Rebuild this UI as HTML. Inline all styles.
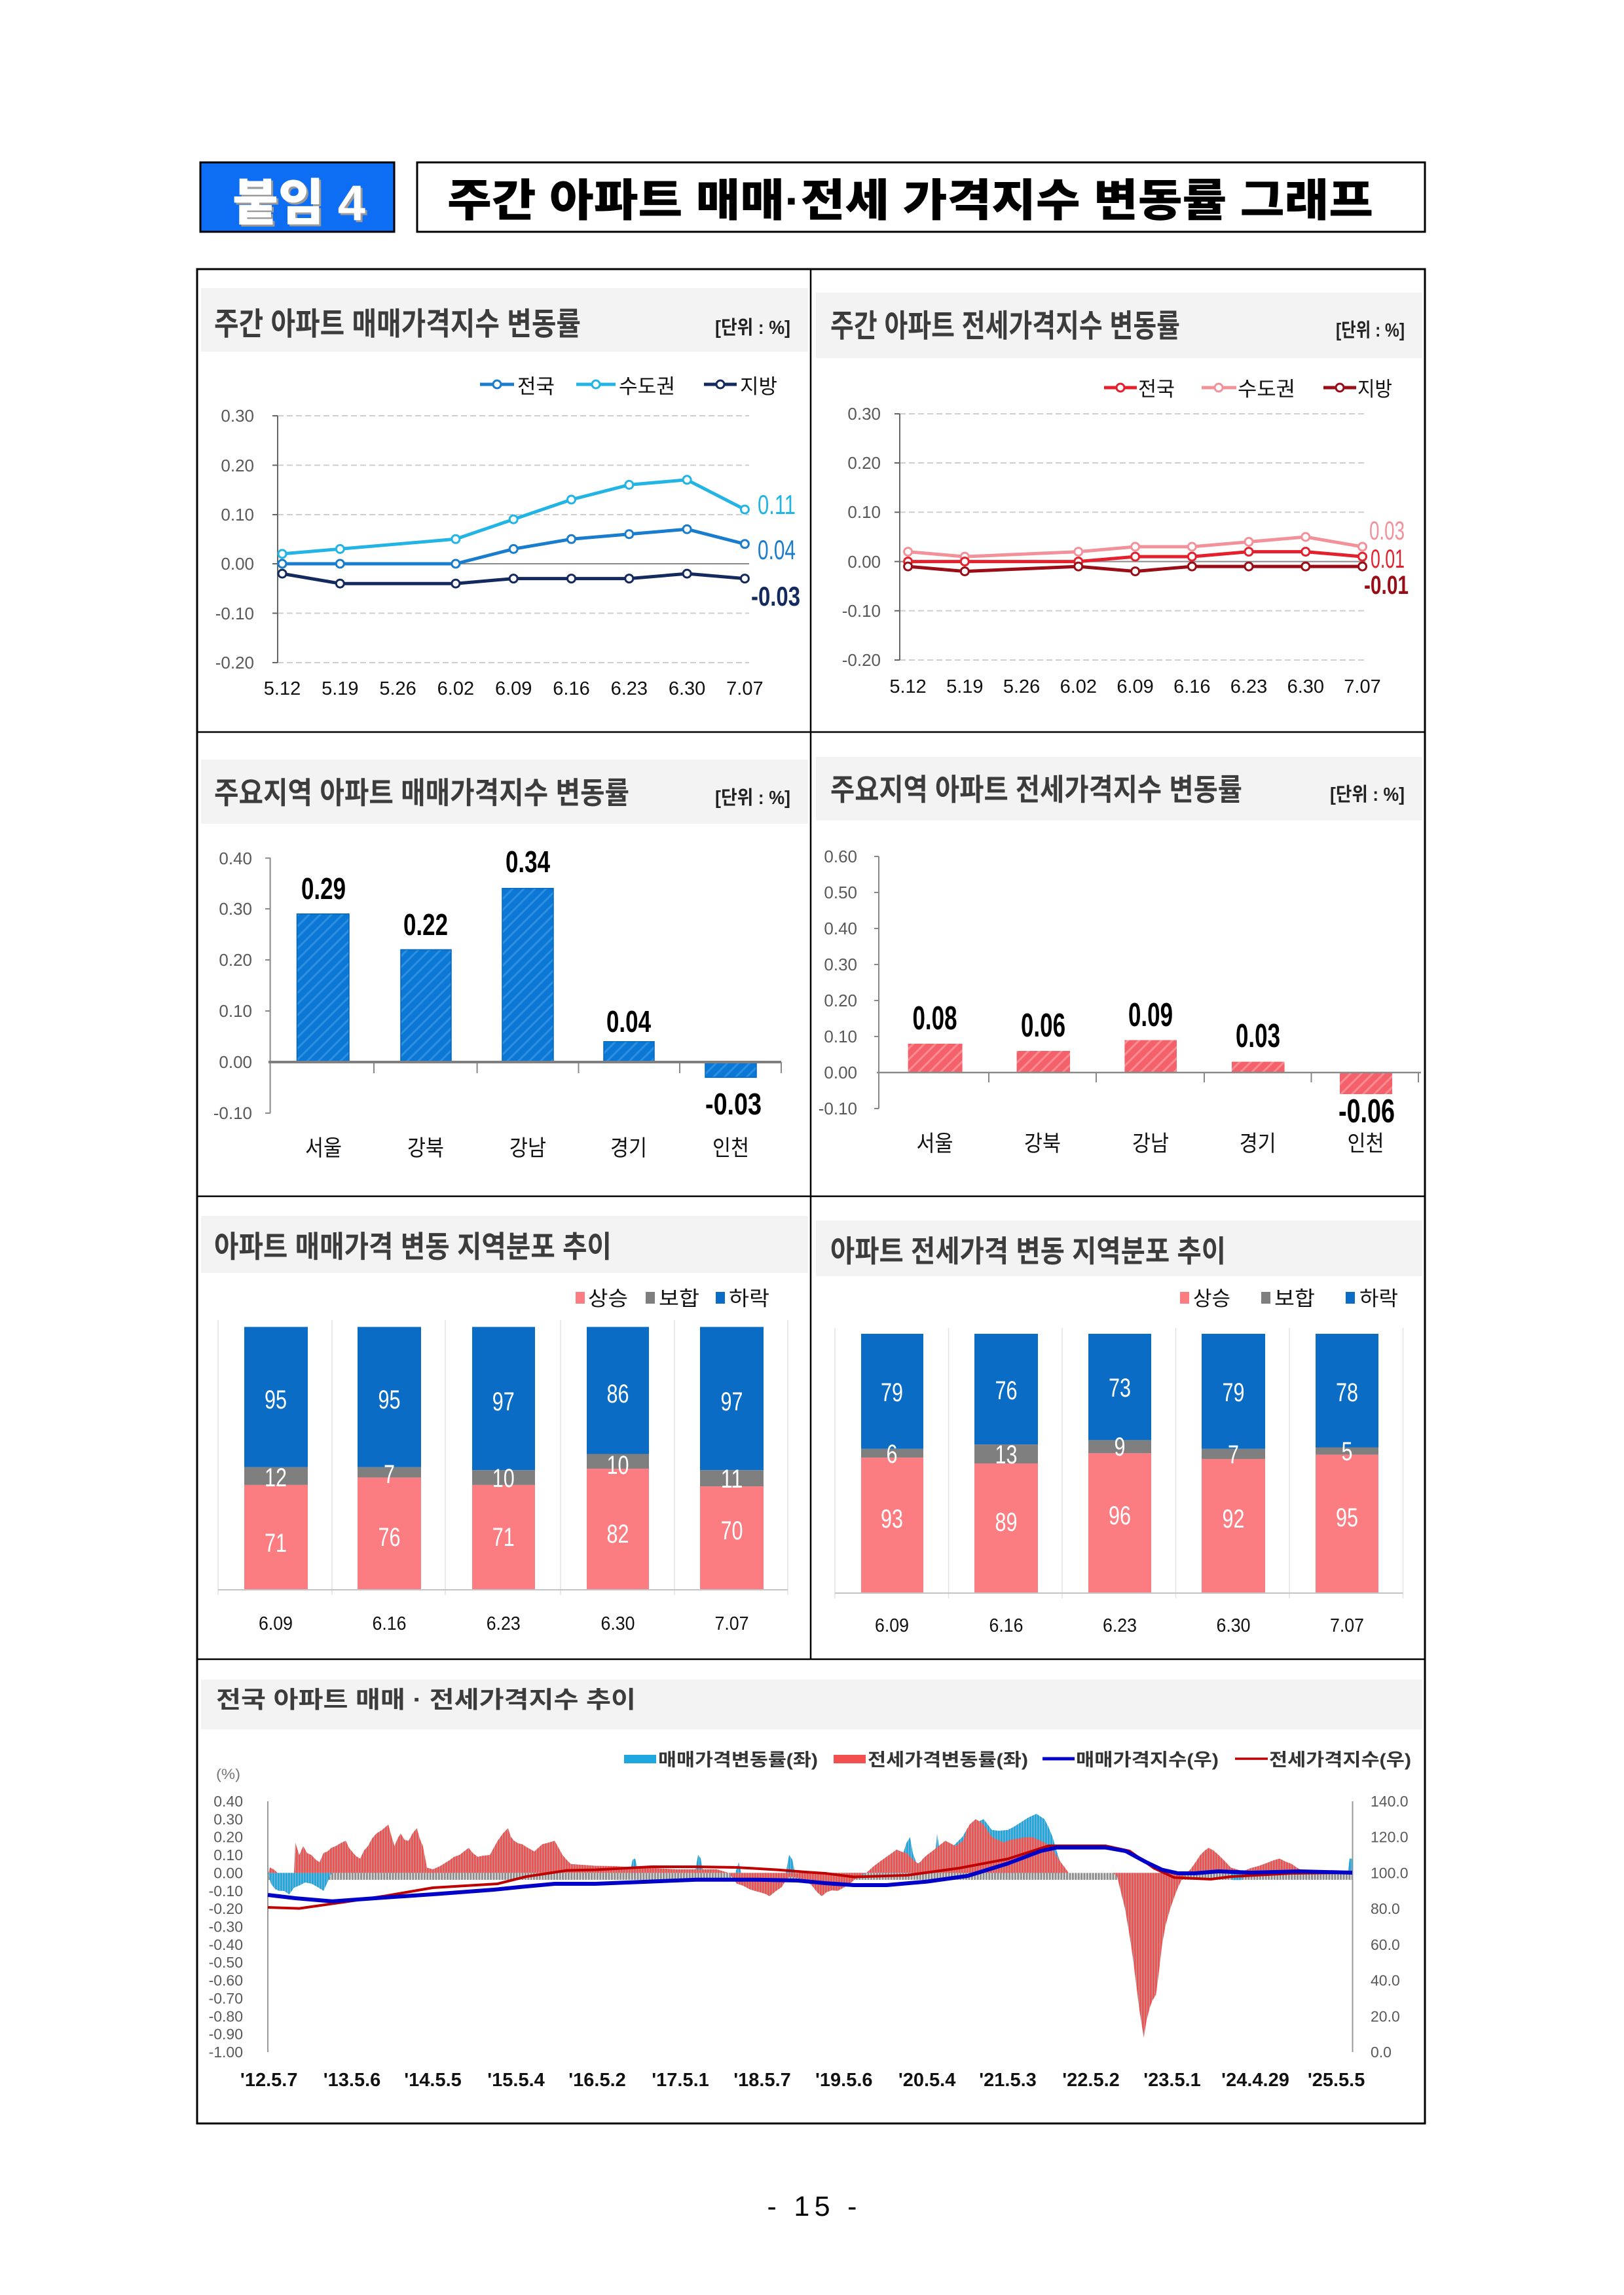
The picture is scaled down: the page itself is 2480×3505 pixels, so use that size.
<!DOCTYPE html>
<html lang="ko">
<head>
<meta charset="utf-8">
<style>
html,body{margin:0;padding:0;background:#fff;}
body{width:2480px;height:3505px;overflow:hidden;}
svg{display:block;}
text{font-family:"Liberation Sans","Noto Sans CJK KR",sans-serif;}
.ttl{font-weight:bold;fill:#3c3c3c;}
.unit{font-weight:bold;fill:#222;font-size:29px;}
.ax{fill:#595959;font-size:26px;}
.xl{fill:#111;font-size:29px;}
.lg{fill:#111;font-size:31px;}
.bv{font-weight:bold;fill:#000;}
.cat{fill:#111;font-size:34px;}
.sv{fill:#fff;font-size:40px;}
.grid{stroke:#cfcfcf;stroke-width:2;stroke-dasharray:9 5;}
</style>
</head>
<body>
<svg width="2480" height="3505" viewBox="0 0 2480 3505" xmlns="http://www.w3.org/2000/svg">
<defs>
  <pattern id="hb" width="12" height="12" patternUnits="userSpaceOnUse" patternTransform="rotate(45)">
    <rect width="12" height="12" fill="#0a78d4"/>
    <rect width="3" height="12" fill="#2e8fe0"/>
  </pattern>
  <pattern id="hp" width="12" height="12" patternUnits="userSpaceOnUse" patternTransform="rotate(45)">
    <rect width="12" height="12" fill="#f5616a"/>
    <rect width="3" height="12" fill="#f88d92"/>
  </pattern>
  <pattern id="rs" width="4" height="20" patternUnits="userSpaceOnUse">
    <rect width="4" height="20" fill="#b89a9a"/>
    <rect width="2.7" height="20" fill="#f2504e"/>
  </pattern>
  <pattern id="cs" width="4" height="20" patternUnits="userSpaceOnUse">
    <rect width="4" height="20" fill="#8fb8c8"/>
    <rect width="2.8" height="20" fill="#1ea6de"/>
  </pattern>
  <pattern id="gs" width="4.4" height="20" patternUnits="userSpaceOnUse">
    <rect width="4.4" height="20" fill="#fff"/>
    <rect width="3.2" height="20" fill="#8e8e8e"/>
  </pattern>
</defs>

<!-- ===== Header ===== -->
<rect x="306" y="248" width="296" height="106" fill="#0d6ef4" stroke="#000" stroke-width="3"/>
<text x="358" y="339" font-size="76" font-weight="900" fill="#9a9a9a" textLength="203" lengthAdjust="spacingAndGlyphs">붙임 4</text>
<text x="355" y="336" font-size="76" font-weight="900" fill="#fff" textLength="203" lengthAdjust="spacingAndGlyphs">붙임 4</text>
<rect x="637" y="248" width="1539" height="106" fill="#fff" stroke="#000" stroke-width="3"/>
<text x="683" y="330" font-size="68" font-weight="900" fill="#000" textLength="1414" lengthAdjust="spacingAndGlyphs">주간 아파트 매매·전세 가격지수 변동률 그래프</text>

<!-- ===== Main frame ===== -->
<rect x="301" y="411" width="1875" height="2832" fill="#fff" stroke="#000" stroke-width="3"/>
<line x1="1238" y1="411" x2="1238" y2="2534" stroke="#000" stroke-width="2.5"/>
<line x1="301" y1="1118" x2="2176" y2="1118" stroke="#000" stroke-width="2.5"/>
<line x1="301" y1="1827" x2="2176" y2="1827" stroke="#000" stroke-width="2.5"/>
<line x1="301" y1="2534" x2="2176" y2="2534" stroke="#000" stroke-width="2.5"/>

<!-- title bands -->
<rect x="307" y="440" width="927" height="97" fill="#f3f3f3"/>
<rect x="1246" y="447" width="926" height="100" fill="#f3f3f3"/>
<rect x="307" y="1160" width="927" height="98" fill="#f3f3f3"/>
<rect x="1246" y="1156" width="926" height="97" fill="#f3f3f3"/>
<rect x="307" y="1857" width="927" height="87" fill="#f3f3f3"/>
<rect x="1246" y="1864" width="926" height="85" fill="#f3f3f3"/>
<rect x="307" y="2565" width="1865" height="76" fill="#f3f3f3"/>

<!-- ===== Chart 1: 매매 weekly ===== -->
<text class="ttl" x="327" y="511" font-size="48" textLength="560" lengthAdjust="spacingAndGlyphs">주간 아파트 매매가격지수 변동률</text>
<text class="unit" x="1092" y="510" textLength="115" lengthAdjust="spacingAndGlyphs">[단위 : %]</text>
<!-- legend -->
<line x1="733" y1="587" x2="785" y2="587" stroke="#1a7ccc" stroke-width="5"/><circle cx="759" cy="587" r="6" fill="#fff" stroke="#1a7ccc" stroke-width="3"/>
<text class="lg" x="790" y="601" textLength="57" lengthAdjust="spacingAndGlyphs">전국</text>
<line x1="880" y1="587" x2="940" y2="587" stroke="#21b4e4" stroke-width="5"/><circle cx="910" cy="587" r="6" fill="#fff" stroke="#21b4e4" stroke-width="3"/>
<text class="lg" x="945" y="601" textLength="86" lengthAdjust="spacingAndGlyphs">수도권</text>
<line x1="1075" y1="587" x2="1125" y2="587" stroke="#142a5e" stroke-width="5"/><circle cx="1100" cy="587" r="6" fill="#fff" stroke="#142a5e" stroke-width="3"/>
<text class="lg" x="1130" y="601" textLength="57" lengthAdjust="spacingAndGlyphs">지방</text>
<!-- grid -->
<line class="grid" x1="424" y1="635" x2="1144" y2="635"/>
<line class="grid" x1="424" y1="710.5" x2="1144" y2="710.5"/>
<line class="grid" x1="424" y1="786" x2="1144" y2="786"/>
<line x1="424" y1="861" x2="1144" y2="861" stroke="#8a8a8a" stroke-width="2"/>
<line class="grid" x1="424" y1="936.5" x2="1144" y2="936.5"/>
<line class="grid" x1="424" y1="1012" x2="1144" y2="1012"/>
<line x1="424" y1="635" x2="424" y2="1012" stroke="#666" stroke-width="2"/>
<g stroke="#666" stroke-width="2">
<line x1="416" y1="635" x2="424" y2="635"/><line x1="416" y1="710.5" x2="424" y2="710.5"/><line x1="416" y1="786" x2="424" y2="786"/><line x1="416" y1="861" x2="424" y2="861"/><line x1="416" y1="936.5" x2="424" y2="936.5"/><line x1="416" y1="1012" x2="424" y2="1012"/>
</g>
<g class="ax" text-anchor="end">
<text x="388" y="644">0.30</text><text x="388" y="720">0.20</text><text x="388" y="795">0.10</text><text x="388" y="870">0.00</text><text x="388" y="946">-0.10</text><text x="388" y="1021">-0.20</text>
</g>
<g class="xl" text-anchor="middle">
<text x="431" y="1061">5.12</text><text x="519.3" y="1061">5.19</text><text x="607.6" y="1061">5.26</text><text x="695.9" y="1061">6.02</text><text x="784.2" y="1061">6.09</text><text x="872.5" y="1061">6.16</text><text x="960.8" y="1061">6.23</text><text x="1049.1" y="1061">6.30</text><text x="1137.4" y="1061">7.07</text>
</g>
<!-- series -->
<polyline fill="none" stroke="#142a5e" stroke-width="5" stroke-linejoin="round" points="431,876.1 519.3,891.2 695.9,891.2 784.2,883.6 872.5,883.6 960.8,883.6 1049.1,876.1 1137.4,883.6"/>
<polyline fill="none" stroke="#1a7ccc" stroke-width="5" stroke-linejoin="round" points="431,861 519.3,861 695.9,861 784.2,838.4 872.5,823.3 960.8,815.8 1049.1,808.2 1137.4,830.8"/>
<polyline fill="none" stroke="#21b4e4" stroke-width="5" stroke-linejoin="round" points="431,845.9 519.3,838.4 695.9,823.3 784.2,793.1 872.5,763 960.8,740.4 1049.1,732.8 1137.4,778.1"/>
<g fill="#fff" stroke-width="3">
<g stroke="#142a5e"><circle cx="431" cy="876.1" r="6"/><circle cx="519.3" cy="891.2" r="6"/><circle cx="695.9" cy="891.2" r="6"/><circle cx="784.2" cy="883.6" r="6"/><circle cx="872.5" cy="883.6" r="6"/><circle cx="960.8" cy="883.6" r="6"/><circle cx="1049.1" cy="876.1" r="6"/><circle cx="1137.4" cy="883.6" r="6"/></g>
<g stroke="#1a7ccc"><circle cx="431" cy="861" r="6"/><circle cx="519.3" cy="861" r="6"/><circle cx="695.9" cy="861" r="6"/><circle cx="784.2" cy="838.4" r="6"/><circle cx="872.5" cy="823.3" r="6"/><circle cx="960.8" cy="815.8" r="6"/><circle cx="1049.1" cy="808.2" r="6"/><circle cx="1137.4" cy="830.8" r="6"/></g>
<g stroke="#21b4e4"><circle cx="431" cy="845.9" r="6"/><circle cx="519.3" cy="838.4" r="6"/><circle cx="695.9" cy="823.3" r="6"/><circle cx="784.2" cy="793.1" r="6"/><circle cx="872.5" cy="763" r="6"/><circle cx="960.8" cy="740.4" r="6"/><circle cx="1049.1" cy="732.8" r="6"/><circle cx="1137.4" cy="778.1" r="6"/></g>
</g>
<text x="1157" y="785" font-size="42" fill="#21b4e4" textLength="58" lengthAdjust="spacingAndGlyphs">0.11</text>
<text x="1157" y="854" font-size="42" fill="#1a7ccc" textLength="58" lengthAdjust="spacingAndGlyphs">0.04</text>
<text x="1147" y="925" font-size="42" font-weight="bold" fill="#142a5e" textLength="75" lengthAdjust="spacingAndGlyphs">-0.03</text>

<!-- ===== Chart 2: 전세 weekly ===== -->
<text class="ttl" x="1268" y="514" font-size="48" textLength="534" lengthAdjust="spacingAndGlyphs">주간 아파트 전세가격지수 변동률</text>
<text class="unit" x="2040" y="514" textLength="105" lengthAdjust="spacingAndGlyphs">[단위 : %]</text>
<line x1="1686" y1="592" x2="1736" y2="592" stroke="#e4202c" stroke-width="5"/><circle cx="1711" cy="592" r="6" fill="#fff" stroke="#e4202c" stroke-width="3"/>
<text class="lg" x="1738" y="605" textLength="56" lengthAdjust="spacingAndGlyphs">전국</text>
<line x1="1835" y1="592" x2="1888" y2="592" stroke="#f3919a" stroke-width="5"/><circle cx="1861" cy="592" r="6" fill="#fff" stroke="#f3919a" stroke-width="3"/>
<text class="lg" x="1890" y="605" textLength="88" lengthAdjust="spacingAndGlyphs">수도권</text>
<line x1="2021" y1="592" x2="2071" y2="592" stroke="#9b0d16" stroke-width="5"/><circle cx="2046" cy="592" r="6" fill="#fff" stroke="#9b0d16" stroke-width="3"/>
<text class="lg" x="2073" y="605" textLength="53" lengthAdjust="spacingAndGlyphs">지방</text>
<line class="grid" x1="1374" y1="632" x2="2085" y2="632"/>
<line class="grid" x1="1374" y1="707" x2="2085" y2="707"/>
<line class="grid" x1="1374" y1="782.3" x2="2085" y2="782.3"/>
<line x1="1374" y1="857.6" x2="2085" y2="857.6" stroke="#8a8a8a" stroke-width="2"/>
<line class="grid" x1="1374" y1="932.8" x2="2085" y2="932.8"/>
<line class="grid" x1="1374" y1="1008" x2="2085" y2="1008"/>
<line x1="1374" y1="632" x2="1374" y2="1008" stroke="#666" stroke-width="2"/>
<g stroke="#666" stroke-width="2">
<line x1="1366" y1="632" x2="1374" y2="632"/><line x1="1366" y1="707" x2="1374" y2="707"/><line x1="1366" y1="782.3" x2="1374" y2="782.3"/><line x1="1366" y1="857.6" x2="1374" y2="857.6"/><line x1="1366" y1="932.8" x2="1374" y2="932.8"/><line x1="1366" y1="1008" x2="1374" y2="1008"/>
</g>
<g class="ax" text-anchor="end">
<text x="1345" y="641">0.30</text><text x="1345" y="716">0.20</text><text x="1345" y="791">0.10</text><text x="1345" y="867">0.00</text><text x="1345" y="942">-0.10</text><text x="1345" y="1017">-0.20</text>
</g>
<g class="xl" text-anchor="middle">
<text x="1386.6" y="1058">5.12</text><text x="1473.3" y="1058">5.19</text><text x="1560.1" y="1058">5.26</text><text x="1646.8" y="1058">6.02</text><text x="1733.6" y="1058">6.09</text><text x="1820.3" y="1058">6.16</text><text x="1907" y="1058">6.23</text><text x="1993.8" y="1058">6.30</text><text x="2080.5" y="1058">7.07</text>
</g>
<polyline fill="none" stroke="#f3919a" stroke-width="5" stroke-linejoin="round" points="1386.6,842.6 1473.3,850.1 1646.8,842.6 1733.6,835 1820.3,835 1907,827.5 1993.8,820 2080.5,835"/>
<polyline fill="none" stroke="#e4202c" stroke-width="5" stroke-linejoin="round" points="1386.6,857.6 1473.3,857.6 1646.8,857.6 1733.6,850.1 1820.3,850.1 1907,842.6 1993.8,842.6 2080.5,850.1"/>
<polyline fill="none" stroke="#9b0d16" stroke-width="5" stroke-linejoin="round" points="1386.6,865.1 1473.3,872.6 1646.8,865.1 1733.6,872.6 1820.3,865.1 1907,865.1 1993.8,865.1 2080.5,865.1"/>
<g fill="#fff" stroke-width="3">
<g stroke="#f3919a"><circle cx="1386.6" cy="842.6" r="6"/><circle cx="1473.3" cy="850.1" r="6"/><circle cx="1646.8" cy="842.6" r="6"/><circle cx="1733.6" cy="835" r="6"/><circle cx="1820.3" cy="835" r="6"/><circle cx="1907" cy="827.5" r="6"/><circle cx="1993.8" cy="820" r="6"/><circle cx="2080.5" cy="835" r="6"/></g>
<g stroke="#e4202c"><circle cx="1386.6" cy="857.6" r="6"/><circle cx="1473.3" cy="857.6" r="6"/><circle cx="1646.8" cy="857.6" r="6"/><circle cx="1733.6" cy="850.1" r="6"/><circle cx="1820.3" cy="850.1" r="6"/><circle cx="1907" cy="842.6" r="6"/><circle cx="1993.8" cy="842.6" r="6"/><circle cx="2080.5" cy="850.1" r="6"/></g>
<g stroke="#9b0d16"><circle cx="1386.6" cy="865.1" r="6"/><circle cx="1473.3" cy="872.6" r="6"/><circle cx="1646.8" cy="865.1" r="6"/><circle cx="1733.6" cy="872.6" r="6"/><circle cx="1820.3" cy="865.1" r="6"/><circle cx="1907" cy="865.1" r="6"/><circle cx="1993.8" cy="865.1" r="6"/><circle cx="2080.5" cy="865.1" r="6"/></g>
</g>
<text x="2091" y="824" font-size="40" fill="#f3919a" textLength="54" lengthAdjust="spacingAndGlyphs">0.03</text>
<text x="2093" y="867" font-size="40" fill="#e4202c" textLength="52" lengthAdjust="spacingAndGlyphs">0.01</text>
<text x="2083" y="907" font-size="40" font-weight="bold" fill="#9b0d16" textLength="68" lengthAdjust="spacingAndGlyphs">-0.01</text>

<!-- ===== Chart 3: 주요지역 매매 ===== -->
<text class="ttl" x="327" y="1227" font-size="46" textLength="634" lengthAdjust="spacingAndGlyphs">주요지역 아파트 매매가격지수 변동률</text>
<text class="unit" x="1092" y="1228" textLength="115" lengthAdjust="spacingAndGlyphs">[단위 : %]</text>
<line x1="412.6" y1="1310" x2="412.6" y2="1700" stroke="#888" stroke-width="2"/>
<g stroke="#888" stroke-width="2">
<line x1="405" y1="1310.5" x2="413" y2="1310.5"/><line x1="405" y1="1388" x2="413" y2="1388"/><line x1="405" y1="1466" x2="413" y2="1466"/><line x1="405" y1="1544" x2="413" y2="1544"/><line x1="405" y1="1700" x2="413" y2="1700"/>
<line x1="571" y1="1622" x2="571" y2="1639"/><line x1="728.6" y1="1622" x2="728.6" y2="1639"/><line x1="883.5" y1="1622" x2="883.5" y2="1639"/><line x1="1038" y1="1622" x2="1038" y2="1639"/><line x1="1193" y1="1622" x2="1193" y2="1639"/>
</g>
<g class="ax" text-anchor="end">
<text x="385" y="1320">0.40</text><text x="385" y="1397">0.30</text><text x="385" y="1475">0.20</text><text x="385" y="1553">0.10</text><text x="385" y="1631">0.00</text><text x="385" y="1709">-0.10</text>
</g>
<g stroke="#0666b8" stroke-width="1.5">
<rect x="453.5" y="1395.8" width="79.5" height="226.2" fill="url(#hb)"/>
<rect x="612" y="1450.4" width="77" height="171.6" fill="url(#hb)"/>
<rect x="767" y="1356.8" width="78" height="265.2" fill="url(#hb)"/>
<rect x="922" y="1590.8" width="77" height="31.2" fill="url(#hb)"/>
<rect x="1077" y="1622" width="78" height="23.4" fill="url(#hb)"/>
</g>
<line x1="410" y1="1622" x2="1193" y2="1622" stroke="#7f7f7f" stroke-width="4"/>
<g class="bv" text-anchor="middle" font-size="46">
<text x="494" y="1373" textLength="68" lengthAdjust="spacingAndGlyphs">0.29</text>
<text x="650" y="1428" textLength="68" lengthAdjust="spacingAndGlyphs">0.22</text>
<text x="806" y="1332" textLength="68" lengthAdjust="spacingAndGlyphs">0.34</text>
<text x="960" y="1576" textLength="68" lengthAdjust="spacingAndGlyphs">0.04</text>
<text x="1120" y="1702" textLength="86" lengthAdjust="spacingAndGlyphs">-0.03</text>
</g>
<g class="cat" text-anchor="middle">
<text x="494" y="1765" textLength="56" lengthAdjust="spacingAndGlyphs">서울</text>
<text x="650" y="1765" textLength="56" lengthAdjust="spacingAndGlyphs">강북</text>
<text x="806" y="1765" textLength="56" lengthAdjust="spacingAndGlyphs">강남</text>
<text x="960" y="1765" textLength="56" lengthAdjust="spacingAndGlyphs">경기</text>
<text x="1116" y="1765" textLength="56" lengthAdjust="spacingAndGlyphs">인천</text>
</g>

<!-- ===== Chart 4: 주요지역 전세 ===== -->
<text class="ttl" x="1268" y="1222" font-size="46" textLength="629" lengthAdjust="spacingAndGlyphs">주요지역 아파트 전세가격지수 변동률</text>
<text class="unit" x="2031" y="1223" textLength="114" lengthAdjust="spacingAndGlyphs">[단위 : %]</text>
<line x1="1342" y1="1308" x2="1342" y2="1693" stroke="#888" stroke-width="2"/>
<g stroke="#888" stroke-width="2">
<line x1="1335" y1="1308" x2="1342" y2="1308"/><line x1="1335" y1="1363" x2="1342" y2="1363"/><line x1="1335" y1="1418" x2="1342" y2="1418"/><line x1="1335" y1="1473" x2="1342" y2="1473"/><line x1="1335" y1="1528" x2="1342" y2="1528"/><line x1="1335" y1="1583" x2="1342" y2="1583"/><line x1="1335" y1="1693" x2="1342" y2="1693"/>
<line x1="1510" y1="1638" x2="1510" y2="1653"/><line x1="1674" y1="1638" x2="1674" y2="1653"/><line x1="1839" y1="1638" x2="1839" y2="1653"/><line x1="2002.5" y1="1638" x2="2002.5" y2="1653"/><line x1="2166" y1="1638" x2="2166" y2="1653"/>
</g>
<g class="ax" text-anchor="end">
<text x="1309" y="1317">0.60</text><text x="1309" y="1372">0.50</text><text x="1309" y="1427">0.40</text><text x="1309" y="1482">0.30</text><text x="1309" y="1537">0.20</text><text x="1309" y="1592">0.10</text><text x="1309" y="1647">0.00</text><text x="1309" y="1702">-0.10</text>
</g>
<g>
<rect x="1386.6" y="1594" width="83" height="44" fill="url(#hp)"/>
<rect x="1552.6" y="1605" width="81.4" height="33" fill="url(#hp)"/>
<rect x="1717.4" y="1588.5" width="79.6" height="49.5" fill="url(#hp)"/>
<rect x="1881" y="1621.5" width="80.6" height="16.5" fill="url(#hp)"/>
<rect x="2046" y="1638" width="80" height="33" fill="url(#hp)"/>
</g>
<line x1="1339" y1="1638" x2="2170" y2="1638" stroke="#8a8a8a" stroke-width="2.5"/>
<g class="bv" text-anchor="middle" font-size="51">
<text x="1427.5" y="1572" textLength="68" lengthAdjust="spacingAndGlyphs">0.08</text>
<text x="1593" y="1583" textLength="68" lengthAdjust="spacingAndGlyphs">0.06</text>
<text x="1757" y="1567" textLength="68" lengthAdjust="spacingAndGlyphs">0.09</text>
<text x="1921" y="1599" textLength="68" lengthAdjust="spacingAndGlyphs">0.03</text>
<text x="2087" y="1714" textLength="86" lengthAdjust="spacingAndGlyphs">-0.06</text>
</g>
<g class="cat" text-anchor="middle">
<text x="1427.5" y="1758" textLength="56" lengthAdjust="spacingAndGlyphs">서울</text>
<text x="1592" y="1758" textLength="56" lengthAdjust="spacingAndGlyphs">강북</text>
<text x="1757" y="1758" textLength="56" lengthAdjust="spacingAndGlyphs">강남</text>
<text x="1920.6" y="1758" textLength="56" lengthAdjust="spacingAndGlyphs">경기</text>
<text x="2085.5" y="1758" textLength="56" lengthAdjust="spacingAndGlyphs">인천</text>
</g>

<!-- ===== Chart 5: 매매 distribution ===== -->
<text class="ttl" x="327" y="1920" font-size="46" textLength="607" lengthAdjust="spacingAndGlyphs">아파트 매매가격 변동 지역분포 추이</text>
<rect x="879" y="1973" width="14" height="18" fill="#fb7d82"/>
<text class="lg" x="898" y="1994" font-size="30" textLength="61" lengthAdjust="spacingAndGlyphs">상승</text>
<rect x="986" y="1973" width="14" height="18" fill="#7f7f7f"/>
<text class="lg" x="1006" y="1994" font-size="30" textLength="62" lengthAdjust="spacingAndGlyphs">보합</text>
<rect x="1093" y="1973" width="14" height="18" fill="#0a6cc4"/>
<text class="lg" x="1113" y="1994" font-size="30" textLength="62" lengthAdjust="spacingAndGlyphs">하락</text>
<g stroke="#e2e2e2" stroke-width="1.5">
<line x1="333" y1="2016" x2="333" y2="2436"/><line x1="507" y1="2016" x2="507" y2="2436"/><line x1="680" y1="2016" x2="680" y2="2436"/><line x1="856" y1="2016" x2="856" y2="2436"/><line x1="1030" y1="2016" x2="1030" y2="2436"/><line x1="1203" y1="2016" x2="1203" y2="2436"/>
</g>
<g>
<rect x="373" y="2026.5" width="97" height="214.3" fill="#0a6cc4"/><rect x="373" y="2240.8" width="97" height="27.1" fill="#7f7f7f"/><rect x="373" y="2267.9" width="97" height="160.1" fill="#fb7d82"/>
<rect x="546" y="2026.5" width="97" height="214.3" fill="#0a6cc4"/><rect x="546" y="2240.8" width="97" height="15.8" fill="#7f7f7f"/><rect x="546" y="2256.6" width="97" height="171.4" fill="#fb7d82"/>
<rect x="721" y="2026.5" width="96" height="218.8" fill="#0a6cc4"/><rect x="721" y="2245.3" width="96" height="22.6" fill="#7f7f7f"/><rect x="721" y="2267.9" width="96" height="160.1" fill="#fb7d82"/>
<rect x="896" y="2026.5" width="95" height="194" fill="#0a6cc4"/><rect x="896" y="2220.5" width="95" height="22.6" fill="#7f7f7f"/><rect x="896" y="2243.1" width="95" height="184.9" fill="#fb7d82"/>
<rect x="1069" y="2026.5" width="97" height="218.8" fill="#0a6cc4"/><rect x="1069" y="2245.3" width="97" height="24.8" fill="#7f7f7f"/><rect x="1069" y="2270.1" width="97" height="157.9" fill="#fb7d82"/>
</g>
<line x1="333" y1="2428" x2="1203" y2="2428" stroke="#c4c4c4" stroke-width="2"/>
<g class="sv" text-anchor="middle">
<text x="421" y="2151" textLength="34" lengthAdjust="spacingAndGlyphs">95</text>
<text x="594.5" y="2151" textLength="34" lengthAdjust="spacingAndGlyphs">95</text>
<text x="768.7" y="2154" textLength="34" lengthAdjust="spacingAndGlyphs">97</text>
<text x="943.5" y="2142" textLength="34" lengthAdjust="spacingAndGlyphs">86</text>
<text x="1117.5" y="2154" textLength="34" lengthAdjust="spacingAndGlyphs">97</text>
<text x="421" y="2270" textLength="34" lengthAdjust="spacingAndGlyphs">12</text>
<text x="594.5" y="2265" textLength="17" lengthAdjust="spacingAndGlyphs">7</text>
<text x="768.7" y="2271" textLength="34" lengthAdjust="spacingAndGlyphs">10</text>
<text x="943.5" y="2251" textLength="34" lengthAdjust="spacingAndGlyphs">10</text>
<text x="1117.5" y="2272" textLength="34" lengthAdjust="spacingAndGlyphs">11</text>
<text x="421" y="2370" textLength="34" lengthAdjust="spacingAndGlyphs">71</text>
<text x="594.5" y="2361" textLength="34" lengthAdjust="spacingAndGlyphs">76</text>
<text x="768.7" y="2361" textLength="34" lengthAdjust="spacingAndGlyphs">71</text>
<text x="943.5" y="2356" textLength="34" lengthAdjust="spacingAndGlyphs">82</text>
<text x="1117.5" y="2351" textLength="34" lengthAdjust="spacingAndGlyphs">70</text>
</g>
<g class="xl" text-anchor="middle" font-size="31">
<text x="421" y="2489" textLength="52" lengthAdjust="spacingAndGlyphs">6.09</text>
<text x="594.5" y="2489" textLength="52" lengthAdjust="spacingAndGlyphs">6.16</text>
<text x="768.7" y="2489" textLength="52" lengthAdjust="spacingAndGlyphs">6.23</text>
<text x="943.5" y="2489" textLength="52" lengthAdjust="spacingAndGlyphs">6.30</text>
<text x="1117.5" y="2489" textLength="52" lengthAdjust="spacingAndGlyphs">7.07</text>
</g>

<!-- ===== Chart 6: 전세 distribution ===== -->
<text class="ttl" x="1268" y="1927" font-size="46" textLength="604" lengthAdjust="spacingAndGlyphs">아파트 전세가격 변동 지역분포 추이</text>
<rect x="1802" y="1973" width="14" height="18" fill="#fb7d82"/>
<text class="lg" x="1822" y="1994" font-size="30" textLength="57" lengthAdjust="spacingAndGlyphs">상승</text>
<rect x="1926" y="1973" width="14" height="18" fill="#7f7f7f"/>
<text class="lg" x="1946" y="1994" font-size="30" textLength="62" lengthAdjust="spacingAndGlyphs">보합</text>
<rect x="2055" y="1973" width="14" height="18" fill="#0a6cc4"/>
<text class="lg" x="2076" y="1994" font-size="30" textLength="59" lengthAdjust="spacingAndGlyphs">하락</text>
<g stroke="#e2e2e2" stroke-width="1.5">
<line x1="1275" y1="2028" x2="1275" y2="2441"/><line x1="1448.5" y1="2028" x2="1448.5" y2="2441"/><line x1="1622" y1="2028" x2="1622" y2="2441"/><line x1="1795.5" y1="2028" x2="1795.5" y2="2441"/><line x1="1969" y1="2028" x2="1969" y2="2441"/><line x1="2142.5" y1="2028" x2="2142.5" y2="2441"/>
</g>
<g>
<rect x="1315" y="2037" width="95" height="175.8" fill="#0a6cc4"/><rect x="1315" y="2212.8" width="95" height="13.3" fill="#7f7f7f"/><rect x="1315" y="2226.1" width="95" height="206.9" fill="#fb7d82"/>
<rect x="1488" y="2037" width="97" height="169.1" fill="#0a6cc4"/><rect x="1488" y="2206.1" width="97" height="28.9" fill="#7f7f7f"/><rect x="1488" y="2235" width="97" height="198" fill="#fb7d82"/>
<rect x="1662" y="2037" width="96" height="162.4" fill="#0a6cc4"/><rect x="1662" y="2199.4" width="96" height="20" fill="#7f7f7f"/><rect x="1662" y="2219.4" width="96" height="213.6" fill="#fb7d82"/>
<rect x="1835" y="2037" width="97" height="175.8" fill="#0a6cc4"/><rect x="1835" y="2212.8" width="97" height="15.6" fill="#7f7f7f"/><rect x="1835" y="2228.4" width="97" height="204.6" fill="#fb7d82"/>
<rect x="2009" y="2037" width="96" height="173.5" fill="#0a6cc4"/><rect x="2009" y="2210.5" width="96" height="11.1" fill="#7f7f7f"/><rect x="2009" y="2221.6" width="96" height="211.4" fill="#fb7d82"/>
</g>
<line x1="1275" y1="2433" x2="2142.5" y2="2433" stroke="#c4c4c4" stroke-width="2"/>
<g class="sv" text-anchor="middle">
<text x="1362" y="2140" textLength="34" lengthAdjust="spacingAndGlyphs">79</text>
<text x="1536.5" y="2137" textLength="34" lengthAdjust="spacingAndGlyphs">76</text>
<text x="1710" y="2133" textLength="34" lengthAdjust="spacingAndGlyphs">73</text>
<text x="1883.5" y="2140" textLength="34" lengthAdjust="spacingAndGlyphs">79</text>
<text x="2057" y="2140" textLength="34" lengthAdjust="spacingAndGlyphs">78</text>
<text x="1362" y="2234" textLength="17" lengthAdjust="spacingAndGlyphs">6</text>
<text x="1536.5" y="2235" textLength="34" lengthAdjust="spacingAndGlyphs">13</text>
<text x="1710" y="2223" textLength="17" lengthAdjust="spacingAndGlyphs">9</text>
<text x="1883.5" y="2235" textLength="17" lengthAdjust="spacingAndGlyphs">7</text>
<text x="2057" y="2230" textLength="17" lengthAdjust="spacingAndGlyphs">5</text>
<text x="1362" y="2333" textLength="34" lengthAdjust="spacingAndGlyphs">93</text>
<text x="1536.5" y="2338" textLength="34" lengthAdjust="spacingAndGlyphs">89</text>
<text x="1710" y="2328" textLength="34" lengthAdjust="spacingAndGlyphs">96</text>
<text x="1883.5" y="2333" textLength="34" lengthAdjust="spacingAndGlyphs">92</text>
<text x="2057" y="2331" textLength="34" lengthAdjust="spacingAndGlyphs">95</text>
</g>
<g class="xl" text-anchor="middle" font-size="31">
<text x="1362" y="2492" textLength="52" lengthAdjust="spacingAndGlyphs">6.09</text>
<text x="1536.5" y="2492" textLength="52" lengthAdjust="spacingAndGlyphs">6.16</text>
<text x="1710" y="2492" textLength="52" lengthAdjust="spacingAndGlyphs">6.23</text>
<text x="1883.5" y="2492" textLength="52" lengthAdjust="spacingAndGlyphs">6.30</text>
<text x="2057" y="2492" textLength="52" lengthAdjust="spacingAndGlyphs">7.07</text>
</g>

<!-- ===== Chart 7: long-term ===== -->
<text class="ttl" x="330" y="2608" font-size="36" textLength="641" lengthAdjust="spacingAndGlyphs">전국 아파트 매매 · 전세가격지수 추이</text>
<!-- legend -->
<rect x="953" y="2680" width="49" height="13" fill="#1ea6de"/>
<text x="1005" y="2697" font-size="27" font-weight="bold" fill="#333" textLength="244" lengthAdjust="spacingAndGlyphs">매매가격변동률(좌)</text>
<rect x="1273" y="2680" width="49" height="13" fill="#f2504e"/>
<text x="1325" y="2697" font-size="27" font-weight="bold" fill="#333" textLength="245" lengthAdjust="spacingAndGlyphs">전세가격변동률(좌)</text>
<line x1="1592" y1="2686" x2="1641" y2="2686" stroke="#0000c8" stroke-width="5"/>
<text x="1643" y="2697" font-size="27" font-weight="bold" fill="#333" textLength="218" lengthAdjust="spacingAndGlyphs">매매가격지수(우)</text>
<line x1="1886" y1="2686" x2="1936" y2="2686" stroke="#c00000" stroke-width="3.5"/>
<text x="1938" y="2697" font-size="27" font-weight="bold" fill="#333" textLength="217" lengthAdjust="spacingAndGlyphs">전세가격지수(우)</text>
<text x="330" y="2717" font-size="22" fill="#777" textLength="37" lengthAdjust="spacingAndGlyphs">(%)</text>
<!-- axes labels -->
<g fill="#595959" font-size="23" text-anchor="end">
<text x="371" y="2759">0.40</text><text x="371" y="2786.4">0.30</text><text x="371" y="2813.7">0.20</text><text x="371" y="2841.1">0.10</text><text x="371" y="2868.4">0.00</text><text x="371" y="2895.8">-0.10</text><text x="371" y="2923.2">-0.20</text><text x="371" y="2950.5">-0.30</text><text x="371" y="2977.9">-0.40</text><text x="371" y="3005.2">-0.50</text><text x="371" y="3032.6">-0.60</text><text x="371" y="3060">-0.70</text><text x="371" y="3087.3">-0.80</text><text x="371" y="3114.7">-0.90</text><text x="371" y="3142">-1.00</text>
</g>
<g fill="#595959" font-size="23">
<text x="2093" y="2759">140.0</text><text x="2093" y="2813.7">120.0</text><text x="2093" y="2868.4">100.0</text><text x="2093" y="2923.2">80.0</text><text x="2093" y="2977.9">60.0</text><text x="2093" y="3032.6">40.0</text><text x="2093" y="3087.3">20.0</text><text x="2093" y="3142">0.0</text>
</g>
<line x1="409" y1="2751" x2="409" y2="3134" stroke="#999" stroke-width="2"/>
<line x1="2065.5" y1="2751" x2="2065.5" y2="3134" stroke="#999" stroke-width="2"/>
<!-- zero band -->
<rect x="409" y="2860.4" width="1656" height="10.5" fill="url(#gs)"/>
<!-- cyan bars (매매 변동률) -->
<g fill="url(#cs)">
<path d="M409,2860.4 L413.8,2876.8 L420,2885 L426,2887.8 L434,2888 L441.6,2893.2 L449,2883 L457,2879.6 L466,2875 L475.6,2876.8 L485,2882 L494,2887.8 L500,2875 L503.5,2865.9 L506.6,2860.4 Z"/>
<path d="M962,2860.4 L966,2840 L970,2838.5 L975,2860.4 Z"/>
<path d="M1061,2860.4 L1066,2833 L1070,2838 L1074,2860.4 Z"/>
<path d="M1123,2860.4 L1128,2844 L1132,2860.4 Z"/>
<path d="M1200,2860.4 L1205,2833 L1210,2840 L1214,2860.4 Z"/>
<path d="M1218,2860.4 L1222,2868.6 L1300,2871.3 L1318,2865 L1322,2860.4 Z"/>
<path d="M1345,2860.4 L1353.8,2846.7 L1365,2840 L1378.5,2833 L1384,2815 L1389.7,2805.7 L1394,2830 L1400,2846.7 L1415,2838 L1428,2833 L1431,2800.2 L1434,2820 L1437,2833 L1455,2820 L1470,2805 L1477.5,2792 L1490,2783.8 L1502,2778.3 L1508,2786 L1514.7,2794.7 L1525,2796 L1539,2794.7 L1548,2790 L1558,2783.8 L1570,2776 L1582.7,2770.1 L1590,2775 L1595,2778.3 L1601,2790 L1607.5,2805.7 L1613.7,2827.6 L1620,2846.7 L1626,2860.4 Z"/>
<path d="M1878,2860.4 L1882,2871.3 L1896,2871.3 L1900,2860.4 Z"/>
<path d="M2058,2860.4 L2061,2838.5 L2065,2838.5 L2065,2860.4 Z"/>
</g>
<!-- red bars (전세 변동률) -->
<g fill="url(#rs)">
<path d="M410,2860.4 L412,2852 L418,2855 L424,2860.4 Z"/>
<path d="M449,2860.4 L451,2813.9 L457,2833 L463,2819.4 L469,2830 L475.6,2833 L482,2840 L488,2844 L494,2830 L500,2827.6 L506,2822 L512.8,2819.4 L520,2815 L528,2811.2 L533,2822 L537.5,2827.6 L544,2835 L550,2838.5 L556,2826 L562,2819.4 L568,2808 L574.7,2800.2 L583,2795 L593,2786.5 L598,2805 L602.5,2819.4 L607,2808 L611.8,2800.2 L618,2810 L624,2811.2 L630,2800 L636.5,2792 L641,2808 L645.8,2819.4 L652,2852.2 L661,2854.9 L672,2850 L686,2841.2 L693,2836 L701.5,2833 L708,2828 L715.7,2822.1 L722,2830 L729.4,2835.8 L738,2834 L748,2833 L754,2822 L760,2811.2 L768,2800 L775.8,2792 L780,2805 L785,2811.2 L791,2815 L797.4,2816.6 L806,2822 L816,2827.6 L822,2822 L828,2816.6 L838,2814 L847,2811.2 L853,2822 L859,2833 L865,2840 L871.7,2846.7 L908.8,2849.5 L940,2850 L970.7,2852.2 L1000,2853 L1032.6,2854.9 L1094.5,2854.9 L1113,2860.4 Z"/>
<path d="M1113,2860.4 L1125,2876.8 L1135,2880 L1144,2885 L1153,2888 L1162.5,2890.5 L1170,2893 L1175,2896 L1185,2888 L1193.5,2882.3 L1200,2872 L1206,2865.9 L1218,2868 L1230.6,2871.3 L1240,2880 L1248,2890 L1255,2896 L1262,2890 L1270,2887 L1279.5,2887.8 L1290,2882 L1298,2876.8 L1308,2868 L1316.6,2863.1 L1322.8,2860.4 Z"/>
<path d="M1322.8,2860.4 L1335,2849.5 L1345,2842 L1353.8,2835.8 L1362,2830 L1369,2824.8 L1377,2828 L1384.7,2830.3 L1394,2840 L1403,2846.7 L1410,2838 L1415.6,2833 L1425,2826 L1435,2818 L1443.5,2811.2 L1451,2815 L1459,2819.4 L1465,2815 L1471,2811.2 L1476,2795 L1480.6,2786.5 L1490,2778.3 L1496,2782 L1502,2786.5 L1508,2796 L1514.7,2805.7 L1524,2810 L1533,2813.9 L1542,2810 L1551.8,2808.4 L1565,2806 L1576.5,2805.7 L1586,2810 L1595,2813.9 L1601,2818 L1607.5,2824.8 L1614,2835 L1619.9,2844 L1626,2852 L1632,2860.4 Z"/>
<path d="M1700,2860.4 L1706,2866 L1712.6,2893.2 L1718,2915 L1725,2956.2 L1730,2990 L1734.3,3024.6 L1740,3070 L1746.7,3112.1 L1751,3085 L1756,3065.6 L1760,3055 L1765.3,3046.4 L1770,3010 L1774.6,2969.8 L1780,2940 L1787,2915.1 L1793,2898 L1799,2882.3 L1805,2870 L1811.7,2860.4 Z"/>
<path d="M1811.7,2860.4 L1818,2854.9 L1825,2845 L1833,2833 L1840,2826 L1845.7,2822.1 L1853,2826 L1861,2833 L1870,2842 L1879.7,2852.2 L1898,2857.7 L1910,2853 L1923,2849.5 L1935,2845 L1945,2841 L1954,2838.5 L1963,2843 L1972.6,2846.7 L1980,2852 L1991,2857.7 L2030,2858 L2065,2858.5 L2065,2860.4 Z"/>
</g>
<!-- index lines -->
<polyline fill="none" stroke="#c00000" stroke-width="4" stroke-linejoin="round" points="409,2913 457,2914.6 525,2905 587,2895.7 661,2883 760,2877 803.6,2866 865.5,2856.6 909,2855.6 995,2851 1063.5,2851 1125,2852 1187,2855.6 1230,2859 1260,2861 1304,2866.5 1384.7,2864 1465,2853 1539,2839 1601,2819 1688,2819 1725,2827 1762,2853 1793,2867.4 1849,2870 1880,2866 1972.6,2861 2065,2860"/>
<polyline fill="none" stroke="#0000c8" stroke-width="6" stroke-linejoin="round" points="409,2894 451,2899 506.6,2903.8 587,2898 661,2893 754,2886 797,2881.6 847,2877 909,2877 971,2874.5 1063.5,2870.7 1156,2870.7 1218,2872 1260,2876 1304,2879 1354,2879 1415.6,2873.6 1477.5,2865 1539,2846 1589,2827 1613.7,2821.6 1688,2821.6 1719,2827 1750,2843.8 1774.6,2855.6 1799,2861 1824,2861 1861,2858 1910.7,2860 1985,2858 2065,2860"/>
<!-- x labels -->
<g font-size="29" font-weight="bold" fill="#111" text-anchor="middle">
<text x="410.7" y="3186">'12.5.7</text><text x="537.5" y="3186">'13.5.6</text><text x="661" y="3186">'14.5.5</text><text x="788" y="3186">'15.5.4</text><text x="912" y="3186">'16.5.2</text><text x="1039" y="3186">'17.5.1</text><text x="1164" y="3186">'18.5.7</text><text x="1288.8" y="3186">'19.5.6</text><text x="1415.6" y="3186">'20.5.4</text><text x="1539" y="3186">'21.5.3</text><text x="1666" y="3186">'22.5.2</text><text x="1790" y="3186">'23.5.1</text><text x="1917" y="3186">'24.4.29</text><text x="2040.6" y="3186">'25.5.5</text>
</g>

<!-- page number -->
<text x="1240" y="3384" font-size="43" fill="#000" text-anchor="middle" textLength="137" lengthAdjust="spacing">- 15 -</text>
</svg>
</body>
</html>
